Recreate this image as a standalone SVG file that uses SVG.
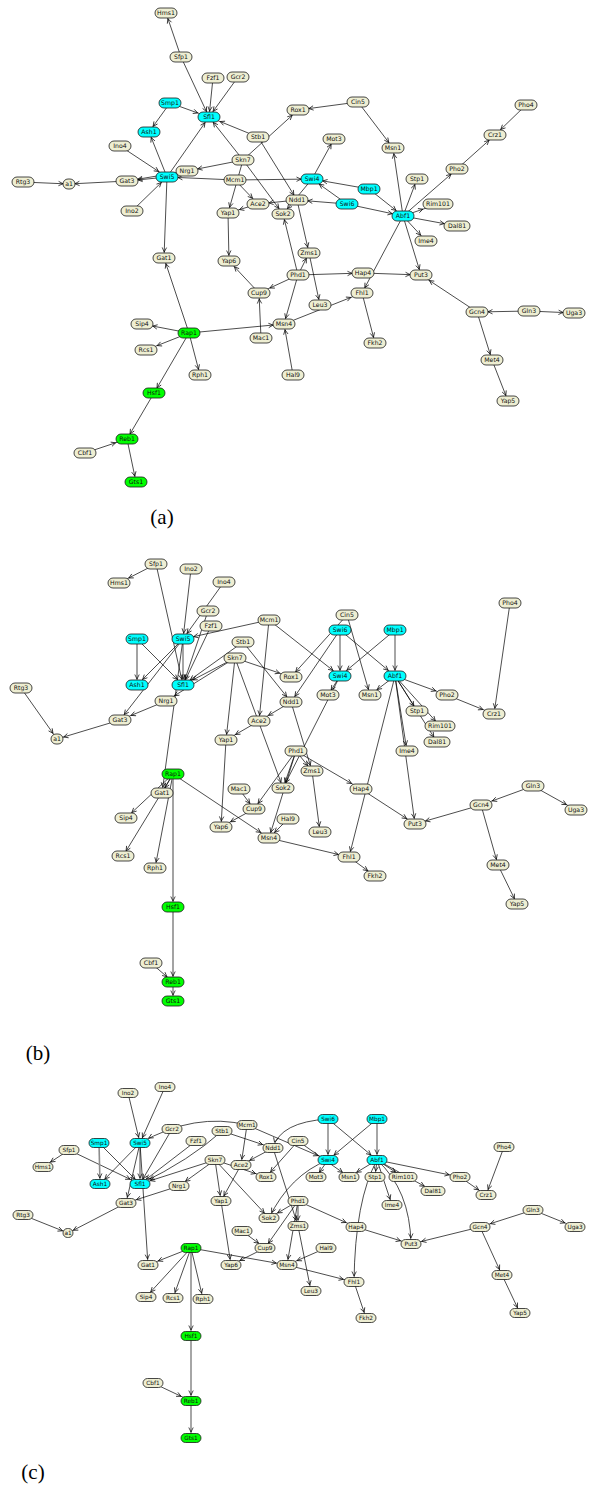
<svg xmlns="http://www.w3.org/2000/svg" width="600" height="1493" viewBox="0 0 600 1493">
<style>
.e line,.e path{stroke:#000;stroke-width:0.7;fill:none}
.e .gr{stroke:#8c8c8c;stroke-width:1.6}
.k6{marker-end:url(#m6)}.k7{marker-end:url(#m7)}.k8{marker-end:url(#m8)}.k9{marker-end:url(#m9)}.k10{marker-end:url(#m10)}.k11{marker-end:url(#m11)}.k12{marker-end:url(#m12)}.k13{marker-end:url(#m13)}.k16{marker-end:url(#m16)}
.n rect{fill:#eeeed2;stroke:#1a1a1a;stroke-width:0.8}
.n.c rect{fill:#00ffff}
.n.g rect{fill:#00ff00}
.n text{font-family:"DejaVu Sans",sans-serif;font-size:6.2px;text-anchor:middle;fill:#111}
.n.s text{font-size:5.8px}
.lbl{font-family:"Liberation Serif",serif;font-size:21px;fill:#000;text-anchor:middle}
</style>
<defs>
<marker id="m6" markerUnits="userSpaceOnUse" orient="auto" refX="6" refY="0" markerWidth="20" markerHeight="10" overflow="visible"><path d="M-4.5,-2.2 L0,0 L-4.5,2.2" fill="none" stroke="#000" stroke-width="0.7"/></marker>
<marker id="m7" markerUnits="userSpaceOnUse" orient="auto" refX="7" refY="0" markerWidth="20" markerHeight="10" overflow="visible"><path d="M-4.5,-2.2 L0,0 L-4.5,2.2" fill="none" stroke="#000" stroke-width="0.7"/></marker>
<marker id="m8" markerUnits="userSpaceOnUse" orient="auto" refX="8" refY="0" markerWidth="20" markerHeight="10" overflow="visible"><path d="M-4.5,-2.2 L0,0 L-4.5,2.2" fill="none" stroke="#000" stroke-width="0.7"/></marker>
<marker id="m9" markerUnits="userSpaceOnUse" orient="auto" refX="9" refY="0" markerWidth="20" markerHeight="10" overflow="visible"><path d="M-4.5,-2.2 L0,0 L-4.5,2.2" fill="none" stroke="#000" stroke-width="0.7"/></marker>
<marker id="m10" markerUnits="userSpaceOnUse" orient="auto" refX="10" refY="0" markerWidth="20" markerHeight="10" overflow="visible"><path d="M-4.5,-2.2 L0,0 L-4.5,2.2" fill="none" stroke="#000" stroke-width="0.7"/></marker>
<marker id="m11" markerUnits="userSpaceOnUse" orient="auto" refX="11" refY="0" markerWidth="20" markerHeight="10" overflow="visible"><path d="M-4.5,-2.2 L0,0 L-4.5,2.2" fill="none" stroke="#000" stroke-width="0.7"/></marker>
<marker id="m12" markerUnits="userSpaceOnUse" orient="auto" refX="12" refY="0" markerWidth="20" markerHeight="10" overflow="visible"><path d="M-4.5,-2.2 L0,0 L-4.5,2.2" fill="none" stroke="#000" stroke-width="0.7"/></marker>
<marker id="m13" markerUnits="userSpaceOnUse" orient="auto" refX="13" refY="0" markerWidth="20" markerHeight="10" overflow="visible"><path d="M-4.5,-2.2 L0,0 L-4.5,2.2" fill="none" stroke="#000" stroke-width="0.7"/></marker>
<marker id="m16" markerUnits="userSpaceOnUse" orient="auto" refX="16" refY="0" markerWidth="20" markerHeight="10" overflow="visible"><path d="M-4.5,-2.2 L0,0 L-4.5,2.2" fill="none" stroke="#000" stroke-width="0.7"/></marker>
</defs>

<g id="a-edges" class="e">
<line class="k6" x1="181" y1="57" x2="166" y2="13"/>
<line class="k6" x1="181" y1="57" x2="209" y2="117"/>
<line class="k6" x1="213" y1="78" x2="209" y2="117"/>
<line class="k7" x1="238" y1="77" x2="209" y2="117"/>
<line class="k12" x1="170" y1="103" x2="209" y2="117"/>
<line class="k7" x1="170" y1="103" x2="149" y2="132"/>
<line class="k6" x1="167" y1="177" x2="149" y2="132"/>
<line class="k7" x1="167" y1="177" x2="209" y2="117"/>
<line class="k12" x1="258" y1="137" x2="209" y2="117"/>
<line class="k7" x1="243" y1="160" x2="209" y2="117"/>
<line class="k6" x1="258" y1="137" x2="297" y2="200"/>
<line class="k8" x1="243" y1="160" x2="298" y2="110"/>
<line class="k11" x1="243" y1="160" x2="187" y2="171"/>
<line class="k7" x1="243" y1="160" x2="283" y2="214"/>
<line class="k6" x1="243" y1="160" x2="228" y2="213"/>
<line class="k11" x1="235" y1="180" x2="167" y2="177"/>
<line class="k11" x1="235" y1="180" x2="312" y2="179"/>
<line class="k8" x1="235" y1="180" x2="258" y2="204"/>
<line class="k11" x1="297" y1="200" x2="258" y2="204"/>
<line class="k12" x1="258" y1="204" x2="228" y2="213"/>
<line class="k7" x1="312" y1="179" x2="283" y2="214"/>
<line class="k6" x1="312" y1="179" x2="334" y2="139"/>
<line class="k11" x1="369" y1="189" x2="312" y2="179"/>
<line class="k9" x1="347" y1="204" x2="312" y2="179"/>
<line class="k11" x1="347" y1="204" x2="297" y2="200"/>
<line class="k9" x1="369" y1="189" x2="403" y2="216"/>
<line class="k11" x1="347" y1="204" x2="403" y2="216"/>
<line class="k6" x1="403" y1="216" x2="393" y2="148"/>
<line class="k7" x1="358" y1="102" x2="393" y2="148"/>
<line class="k11" x1="358" y1="102" x2="298" y2="110"/>
<line class="k6" x1="403" y1="216" x2="417" y2="179"/>
<line class="k8" x1="403" y1="216" x2="457" y2="169"/>
<line class="k8" x1="457" y1="169" x2="495" y2="135"/>
<line class="k8" x1="526" y1="105" x2="495" y2="135"/>
<line class="k16" x1="403" y1="216" x2="438" y2="204"/>
<line class="k13" x1="403" y1="216" x2="457" y2="226"/>
<line class="k8" x1="403" y1="216" x2="426" y2="241"/>
<line class="k6" x1="403" y1="216" x2="421" y2="275"/>
<line class="k6" x1="403" y1="216" x2="362" y2="293"/>
<line class="k11" x1="363" y1="273" x2="421" y2="275"/>
<line class="k11" x1="298" y1="275" x2="363" y2="273"/>
<line class="k12" x1="298" y1="275" x2="259" y2="293"/>
<line class="k6" x1="298" y1="275" x2="309" y2="253"/>
<line class="k6" x1="298" y1="275" x2="283" y2="214"/>
<line class="k6" x1="298" y1="275" x2="284" y2="324"/>
<line class="k6" x1="297" y1="200" x2="309" y2="253"/>
<line class="k6" x1="309" y1="253" x2="320" y2="305"/>
<line class="k12" x1="284" y1="324" x2="362" y2="293"/>
<line class="k6" x1="362" y1="293" x2="375" y2="343"/>
<line class="k8" x1="259" y1="293" x2="229" y2="261"/>
<line class="k6" x1="228" y1="213" x2="229" y2="261"/>
<line class="k6" x1="261" y1="338" x2="259" y2="293"/>
<line class="k6" x1="293" y1="375" x2="284" y2="324"/>
<line class="k11" x1="189" y1="333" x2="284" y2="324"/>
<line class="k6" x1="189" y1="333" x2="164" y2="258"/>
<line class="k11" x1="189" y1="333" x2="142" y2="324"/>
<line class="k12" x1="189" y1="333" x2="146" y2="350"/>
<line class="k6" x1="189" y1="333" x2="200" y2="375"/>
<line class="k6" x1="189" y1="333" x2="154" y2="393"/>
<line class="k6" x1="154" y1="393" x2="127" y2="439"/>
<line class="k12" x1="85" y1="453" x2="127" y2="439"/>
<line class="k6" x1="127" y1="439" x2="136" y2="482"/>
<line class="k6" x1="167" y1="177" x2="164" y2="258"/>
<line class="k11" x1="167" y1="177" x2="127" y2="181"/>
<line class="k11" x1="187" y1="171" x2="127" y2="181"/>
<line class="k6" x1="127" y1="181" x2="69" y2="184"/>
<line class="k6" x1="23" y1="182" x2="69" y2="184"/>
<line class="k10" x1="120" y1="146" x2="167" y2="177"/>
<line class="k8" x1="132" y1="211" x2="167" y2="177"/>
<line class="k10" x1="477" y1="312" x2="421" y2="275"/>
<line class="k11" x1="529" y1="311" x2="477" y2="312"/>
<line class="k11" x1="529" y1="311" x2="574" y2="313"/>
<line class="k6" x1="477" y1="312" x2="492" y2="360"/>
<line class="k6" x1="492" y1="360" x2="508" y2="401"/>
</g>

<g id="a-nodes">
<g id="a-Hms1" class="n" transform="translate(166,13)"><rect x="-11" y="-5" width="22" height="10" rx="5"/><text y="2.2">Hms1</text></g>
<g id="a-Sfp1" class="n" transform="translate(181,57)"><rect x="-11" y="-5" width="22" height="10" rx="5"/><text y="2.2">Sfp1</text></g>
<g id="a-Fzf1" class="n" transform="translate(213,78)"><rect x="-11" y="-5" width="22" height="10" rx="5"/><text y="2.2">Fzf1</text></g>
<g id="a-Gcr2" class="n" transform="translate(238,77)"><rect x="-11" y="-5" width="22" height="10" rx="5"/><text y="2.2">Gcr2</text></g>
<g id="a-Smp1" class="n c" transform="translate(170,103)"><rect x="-11" y="-5" width="22" height="10" rx="5"/><text y="2.2">Smp1</text></g>
<g id="a-Sfl1" class="n c" transform="translate(209,117)"><rect x="-11" y="-5" width="22" height="10" rx="5"/><text y="2.2">Sfl1</text></g>
<g id="a-Ash1" class="n c" transform="translate(149,132)"><rect x="-11" y="-5" width="22" height="10" rx="5"/><text y="2.2">Ash1</text></g>
<g id="a-Stb1" class="n" transform="translate(258,137)"><rect x="-11" y="-5" width="22" height="10" rx="5"/><text y="2.2">Stb1</text></g>
<g id="a-Ino4" class="n" transform="translate(120,146)"><rect x="-11" y="-5" width="22" height="10" rx="5"/><text y="2.2">Ino4</text></g>
<g id="a-Skn7" class="n" transform="translate(243,160)"><rect x="-11" y="-5" width="22" height="10" rx="5"/><text y="2.2">Skn7</text></g>
<g id="a-Nrg1" class="n" transform="translate(187,171)"><rect x="-11" y="-5" width="22" height="10" rx="5"/><text y="2.2">Nrg1</text></g>
<g id="a-Swi5" class="n c" transform="translate(167,177)"><rect x="-11" y="-5" width="22" height="10" rx="5"/><text y="2.2">Swi5</text></g>
<g id="a-Mcm1" class="n" transform="translate(235,180)"><rect x="-11" y="-5" width="22" height="10" rx="5"/><text y="2.2">Mcm1</text></g>
<g id="a-Gat3" class="n" transform="translate(127,181)"><rect x="-11" y="-5" width="22" height="10" rx="5"/><text y="2.2">Gat3</text></g>
<g id="a-Rtg3" class="n" transform="translate(23,182)"><rect x="-11" y="-5" width="22" height="10" rx="5"/><text y="2.2">Rtg3</text></g>
<g id="a-a1" class="n" transform="translate(69,184)"><rect x="-6" y="-5" width="12" height="10" rx="5"/><text y="2.2">a1</text></g>
<g id="a-Ino2" class="n" transform="translate(132,211)"><rect x="-11" y="-5" width="22" height="10" rx="5"/><text y="2.2">Ino2</text></g>
<g id="a-Ace2" class="n" transform="translate(258,204)"><rect x="-11" y="-5" width="22" height="10" rx="5"/><text y="2.2">Ace2</text></g>
<g id="a-Yap1" class="n" transform="translate(228,213)"><rect x="-11" y="-5" width="22" height="10" rx="5"/><text y="2.2">Yap1</text></g>
<g id="a-Sok2" class="n" transform="translate(283,214)"><rect x="-11" y="-5" width="22" height="10" rx="5"/><text y="2.2">Sok2</text></g>
<g id="a-Rox1" class="n" transform="translate(298,110)"><rect x="-11" y="-5" width="22" height="10" rx="5"/><text y="2.2">Rox1</text></g>
<g id="a-Ndd1" class="n" transform="translate(297,200)"><rect x="-11" y="-5" width="22" height="10" rx="5"/><text y="2.2">Ndd1</text></g>
<g id="a-Cin5" class="n" transform="translate(358,102)"><rect x="-11" y="-5" width="22" height="10" rx="5"/><text y="2.2">Cin5</text></g>
<g id="a-Pho4" class="n" transform="translate(526,105)"><rect x="-11" y="-5" width="22" height="10" rx="5"/><text y="2.2">Pho4</text></g>
<g id="a-Crz1" class="n" transform="translate(495,135)"><rect x="-11" y="-5" width="22" height="10" rx="5"/><text y="2.2">Crz1</text></g>
<g id="a-Mot3" class="n" transform="translate(334,139)"><rect x="-11" y="-5" width="22" height="10" rx="5"/><text y="2.2">Mot3</text></g>
<g id="a-Msn1" class="n" transform="translate(393,148)"><rect x="-11" y="-5" width="22" height="10" rx="5"/><text y="2.2">Msn1</text></g>
<g id="a-Pho2" class="n" transform="translate(457,169)"><rect x="-11" y="-5" width="22" height="10" rx="5"/><text y="2.2">Pho2</text></g>
<g id="a-Stp1" class="n" transform="translate(417,179)"><rect x="-11" y="-5" width="22" height="10" rx="5"/><text y="2.2">Stp1</text></g>
<g id="a-Swi4" class="n c" transform="translate(312,179)"><rect x="-11" y="-5" width="22" height="10" rx="5"/><text y="2.2">Swi4</text></g>
<g id="a-Mbp1" class="n c" transform="translate(369,189)"><rect x="-11" y="-5" width="22" height="10" rx="5"/><text y="2.2">Mbp1</text></g>
<g id="a-Rim101" class="n" transform="translate(438,204)"><rect x="-15" y="-5" width="30" height="10" rx="5"/><text y="2.2">Rim101</text></g>
<g id="a-Swi6" class="n c" transform="translate(347,204)"><rect x="-11" y="-5" width="22" height="10" rx="5"/><text y="2.2">Swi6</text></g>
<g id="a-Abf1" class="n c" transform="translate(403,216)"><rect x="-11" y="-5" width="22" height="10" rx="5"/><text y="2.2">Abf1</text></g>
<g id="a-Dal81" class="n" transform="translate(457,226)"><rect x="-13" y="-5" width="26" height="10" rx="5"/><text y="2.2">Dal81</text></g>
<g id="a-Ime4" class="n" transform="translate(426,241)"><rect x="-11" y="-5" width="22" height="10" rx="5"/><text y="2.2">Ime4</text></g>
<g id="a-Zms1" class="n" transform="translate(309,253)"><rect x="-11" y="-5" width="22" height="10" rx="5"/><text y="2.2">Zms1</text></g>
<g id="a-Phd1" class="n" transform="translate(298,275)"><rect x="-11" y="-5" width="22" height="10" rx="5"/><text y="2.2">Phd1</text></g>
<g id="a-Hap4" class="n" transform="translate(363,273)"><rect x="-11" y="-5" width="22" height="10" rx="5"/><text y="2.2">Hap4</text></g>
<g id="a-Put3" class="n" transform="translate(421,275)"><rect x="-11" y="-5" width="22" height="10" rx="5"/><text y="2.2">Put3</text></g>
<g id="a-Cup9" class="n" transform="translate(259,293)"><rect x="-11" y="-5" width="22" height="10" rx="5"/><text y="2.2">Cup9</text></g>
<g id="a-Fhl1" class="n" transform="translate(362,293)"><rect x="-11" y="-5" width="22" height="10" rx="5"/><text y="2.2">Fhl1</text></g>
<g id="a-Gat1" class="n" transform="translate(164,258)"><rect x="-11" y="-5" width="22" height="10" rx="5"/><text y="2.2">Gat1</text></g>
<g id="a-Yap6" class="n" transform="translate(229,261)"><rect x="-11" y="-5" width="22" height="10" rx="5"/><text y="2.2">Yap6</text></g>
<g id="a-Leu3" class="n" transform="translate(320,305)"><rect x="-11" y="-5" width="22" height="10" rx="5"/><text y="2.2">Leu3</text></g>
<g id="a-Sip4" class="n" transform="translate(142,324)"><rect x="-11" y="-5" width="22" height="10" rx="5"/><text y="2.2">Sip4</text></g>
<g id="a-Msn4" class="n" transform="translate(284,324)"><rect x="-11" y="-5" width="22" height="10" rx="5"/><text y="2.2">Msn4</text></g>
<g id="a-Rap1" class="n g" transform="translate(189,333)"><rect x="-11" y="-5" width="22" height="10" rx="5"/><text y="2.2">Rap1</text></g>
<g id="a-Mac1" class="n" transform="translate(261,338)"><rect x="-11" y="-5" width="22" height="10" rx="5"/><text y="2.2">Mac1</text></g>
<g id="a-Rcs1" class="n" transform="translate(146,350)"><rect x="-11" y="-5" width="22" height="10" rx="5"/><text y="2.2">Rcs1</text></g>
<g id="a-Fkh2" class="n" transform="translate(375,343)"><rect x="-11" y="-5" width="22" height="10" rx="5"/><text y="2.2">Fkh2</text></g>
<g id="a-Rph1" class="n" transform="translate(200,375)"><rect x="-11" y="-5" width="22" height="10" rx="5"/><text y="2.2">Rph1</text></g>
<g id="a-Hal9" class="n" transform="translate(293,375)"><rect x="-11" y="-5" width="22" height="10" rx="5"/><text y="2.2">Hal9</text></g>
<g id="a-Hsf1" class="n g" transform="translate(154,393)"><rect x="-11" y="-5" width="22" height="10" rx="5"/><text y="2.2">Hsf1</text></g>
<g id="a-Reb1" class="n g" transform="translate(127,439)"><rect x="-11" y="-5" width="22" height="10" rx="5"/><text y="2.2">Reb1</text></g>
<g id="a-Cbf1" class="n" transform="translate(85,453)"><rect x="-11" y="-5" width="22" height="10" rx="5"/><text y="2.2">Cbf1</text></g>
<g id="a-Gts1" class="n g" transform="translate(136,482)"><rect x="-11" y="-5" width="22" height="10" rx="5"/><text y="2.2">Gts1</text></g>
<g id="a-Gcn4" class="n" transform="translate(477,312)"><rect x="-11" y="-5" width="22" height="10" rx="5"/><text y="2.2">Gcn4</text></g>
<g id="a-Gln3" class="n" transform="translate(529,311)"><rect x="-11" y="-5" width="22" height="10" rx="5"/><text y="2.2">Gln3</text></g>
<g id="a-Uga3" class="n" transform="translate(574,313)"><rect x="-11" y="-5" width="22" height="10" rx="5"/><text y="2.2">Uga3</text></g>
<g id="a-Met4" class="n" transform="translate(492,360)"><rect x="-11" y="-5" width="22" height="10" rx="5"/><text y="2.2">Met4</text></g>
<g id="a-Yap5" class="n" transform="translate(508,401)"><rect x="-11" y="-5" width="22" height="10" rx="5"/><text y="2.2">Yap5</text></g>
</g>
<text class="lbl" x="162" y="524">(a)</text>

<g id="b-edges" class="e">
<line class="k11" x1="156" y1="564" x2="119" y2="583"/>
<line class="k6" x1="156" y1="564" x2="183" y2="685"/>
<line class="k6" x1="211" y1="626" x2="183" y2="685"/>
<line class="k6" x1="208" y1="611" x2="183" y2="685"/>
<line class="k8" x1="137" y1="639" x2="183" y2="685"/>
<line class="k6 gr" x1="137" y1="639" x2="137" y2="685"/>
<line class="k8" x1="183" y1="639" x2="137" y2="685"/>
<line class="k6" x1="183" y1="639" x2="183" y2="685"/>
<line class="k9" x1="243" y1="642" x2="183" y2="685"/>
<line class="k11" x1="235" y1="658" x2="183" y2="685"/>
<line class="k7" x1="243" y1="642" x2="291" y2="702"/>
<line class="k12" x1="235" y1="658" x2="291" y2="677"/>
<line class="k10" x1="235" y1="658" x2="166" y2="701"/>
<line class="k6" x1="235" y1="658" x2="283" y2="788"/>
<line class="k6" x1="235" y1="658" x2="226" y2="740"/>
<line class="k11" x1="269" y1="620" x2="183" y2="639"/>
<line class="k9" x1="269" y1="620" x2="340" y2="676"/>
<line class="k6" x1="269" y1="620" x2="259" y2="721"/>
<line class="k11" x1="291" y1="702" x2="259" y2="721"/>
<line class="k11" x1="259" y1="721" x2="226" y2="740"/>
<line class="k6" x1="340" y1="676" x2="283" y2="788"/>
<line class="k6" x1="340" y1="676" x2="328" y2="695"/>
<line class="k9" x1="395" y1="630" x2="340" y2="676"/>
<line class="k6" x1="340" y1="630" x2="340" y2="676"/>
<line class="k7" x1="340" y1="630" x2="291" y2="702"/>
<line class="k6" x1="395" y1="630" x2="395" y2="676"/>
<line class="k9" x1="340" y1="630" x2="395" y2="676"/>
<line class="k9" x1="395" y1="676" x2="370" y2="695"/>
<line class="k6" x1="347" y1="615" x2="370" y2="695"/>
<line class="k7" x1="347" y1="615" x2="291" y2="677"/>
<line class="k6" x1="395" y1="676" x2="417" y2="711"/>
<line class="k12" x1="395" y1="676" x2="447" y2="695"/>
<line class="k12" x1="447" y1="695" x2="494" y2="714"/>
<line class="k6" x1="510" y1="603" x2="494" y2="714"/>
<line class="k7" x1="395" y1="676" x2="440" y2="726"/>
<line class="k6" x1="395" y1="676" x2="437" y2="742"/>
<line class="k6" x1="395" y1="676" x2="407" y2="751"/>
<line class="k6" x1="395" y1="676" x2="415" y2="824"/>
<line class="k6" x1="395" y1="676" x2="349" y2="857"/>
<line class="k10" x1="361" y1="789" x2="415" y2="824"/>
<line class="k11" x1="296" y1="751" x2="361" y2="789"/>
<line class="k7" x1="296" y1="751" x2="254" y2="809"/>
<line class="k7" x1="296" y1="751" x2="312" y2="771"/>
<line class="k6" x1="296" y1="751" x2="283" y2="788"/>
<line class="k6" x1="296" y1="751" x2="269" y2="838"/>
<line class="k6" x1="291" y1="702" x2="312" y2="771"/>
<line class="k6" x1="312" y1="771" x2="320" y2="832"/>
<line class="k11" x1="269" y1="838" x2="349" y2="857"/>
<line class="k9" x1="349" y1="857" x2="375" y2="876"/>
<line class="k11" x1="254" y1="809" x2="221" y2="827"/>
<line class="k6" x1="226" y1="740" x2="221" y2="827"/>
<line class="k7" x1="239" y1="789" x2="254" y2="809"/>
<line class="k8" x1="288" y1="819" x2="269" y2="838"/>
<line class="k10" x1="173" y1="774" x2="269" y2="838"/>
<line class="k6" x1="173" y1="774" x2="162" y2="793"/>
<line class="k8" x1="173" y1="774" x2="126" y2="818"/>
<line class="k6" x1="173" y1="774" x2="123" y2="856"/>
<line class="k6" x1="173" y1="774" x2="155" y2="868"/>
<line class="k6 gr" x1="173" y1="774" x2="173" y2="907"/>
<line class="k6 gr" x1="173" y1="907" x2="173" y2="982"/>
<line class="k8" x1="151" y1="963" x2="173" y2="982"/>
<line class="k6" x1="173" y1="982" x2="173" y2="1001"/>
<line class="k6" x1="183" y1="639" x2="162" y2="793"/>
<line class="k7" x1="183" y1="639" x2="120" y2="720"/>
<line class="k12" x1="166" y1="701" x2="120" y2="720"/>
<line class="k7" x1="120" y1="720" x2="57" y2="739"/>
<line class="k7" x1="21" y1="688" x2="57" y2="739"/>
<line class="k7" x1="224" y1="582" x2="183" y2="639"/>
<line class="k6" x1="191" y1="569" x2="183" y2="639"/>
<line class="k11" x1="481" y1="805" x2="415" y2="824"/>
<line class="k12" x1="533" y1="786" x2="481" y2="805"/>
<line class="k11" x1="533" y1="786" x2="576" y2="810"/>
<line class="k6" x1="481" y1="805" x2="498" y2="865"/>
<line class="k6" x1="498" y1="865" x2="517" y2="904"/>
</g>

<g id="b-nodes">
<g id="b-Sfp1" class="n" transform="translate(156,564)"><rect x="-11" y="-5" width="22" height="10" rx="5"/><text y="2.2">Sfp1</text></g>
<g id="b-Ino2" class="n" transform="translate(191,569)"><rect x="-11" y="-5" width="22" height="10" rx="5"/><text y="2.2">Ino2</text></g>
<g id="b-Hms1" class="n" transform="translate(119,583)"><rect x="-11" y="-5" width="22" height="10" rx="5"/><text y="2.2">Hms1</text></g>
<g id="b-Ino4" class="n" transform="translate(224,582)"><rect x="-11" y="-5" width="22" height="10" rx="5"/><text y="2.2">Ino4</text></g>
<g id="b-Gcr2" class="n" transform="translate(208,611)"><rect x="-11" y="-5" width="22" height="10" rx="5"/><text y="2.2">Gcr2</text></g>
<g id="b-Mcm1" class="n" transform="translate(269,620)"><rect x="-11" y="-5" width="22" height="10" rx="5"/><text y="2.2">Mcm1</text></g>
<g id="b-Fzf1" class="n" transform="translate(211,626)"><rect x="-11" y="-5" width="22" height="10" rx="5"/><text y="2.2">Fzf1</text></g>
<g id="b-Smp1" class="n c" transform="translate(137,639)"><rect x="-11" y="-5" width="22" height="10" rx="5"/><text y="2.2">Smp1</text></g>
<g id="b-Swi5" class="n c" transform="translate(183,639)"><rect x="-11" y="-5" width="22" height="10" rx="5"/><text y="2.2">Swi5</text></g>
<g id="b-Stb1" class="n" transform="translate(243,642)"><rect x="-11" y="-5" width="22" height="10" rx="5"/><text y="2.2">Stb1</text></g>
<g id="b-Skn7" class="n" transform="translate(235,658)"><rect x="-11" y="-5" width="22" height="10" rx="5"/><text y="2.2">Skn7</text></g>
<g id="b-Rox1" class="n" transform="translate(291,677)"><rect x="-11" y="-5" width="22" height="10" rx="5"/><text y="2.2">Rox1</text></g>
<g id="b-Rtg3" class="n" transform="translate(21,688)"><rect x="-11" y="-5" width="22" height="10" rx="5"/><text y="2.2">Rtg3</text></g>
<g id="b-Ash1" class="n c" transform="translate(137,685)"><rect x="-11" y="-5" width="22" height="10" rx="5"/><text y="2.2">Ash1</text></g>
<g id="b-Sfl1" class="n c" transform="translate(183,685)"><rect x="-11" y="-5" width="22" height="10" rx="5"/><text y="2.2">Sfl1</text></g>
<g id="b-Nrg1" class="n" transform="translate(166,701)"><rect x="-11" y="-5" width="22" height="10" rx="5"/><text y="2.2">Nrg1</text></g>
<g id="b-Ndd1" class="n" transform="translate(291,702)"><rect x="-11" y="-5" width="22" height="10" rx="5"/><text y="2.2">Ndd1</text></g>
<g id="b-Gat3" class="n" transform="translate(120,720)"><rect x="-11" y="-5" width="22" height="10" rx="5"/><text y="2.2">Gat3</text></g>
<g id="b-Ace2" class="n" transform="translate(259,721)"><rect x="-11" y="-5" width="22" height="10" rx="5"/><text y="2.2">Ace2</text></g>
<g id="b-a1" class="n" transform="translate(57,739)"><rect x="-6" y="-5" width="12" height="10" rx="5"/><text y="2.2">a1</text></g>
<g id="b-Yap1" class="n" transform="translate(226,740)"><rect x="-11" y="-5" width="22" height="10" rx="5"/><text y="2.2">Yap1</text></g>
<g id="b-Rap1" class="n g" transform="translate(173,774)"><rect x="-11" y="-5" width="22" height="10" rx="5"/><text y="2.2">Rap1</text></g>
<g id="b-Mac1" class="n" transform="translate(239,789)"><rect x="-11" y="-5" width="22" height="10" rx="5"/><text y="2.2">Mac1</text></g>
<g id="b-Sok2" class="n" transform="translate(283,788)"><rect x="-11" y="-5" width="22" height="10" rx="5"/><text y="2.2">Sok2</text></g>
<g id="b-Pho4" class="n" transform="translate(510,603)"><rect x="-11" y="-5" width="22" height="10" rx="5"/><text y="2.2">Pho4</text></g>
<g id="b-Cin5" class="n" transform="translate(347,615)"><rect x="-11" y="-5" width="22" height="10" rx="5"/><text y="2.2">Cin5</text></g>
<g id="b-Swi6" class="n c" transform="translate(340,630)"><rect x="-11" y="-5" width="22" height="10" rx="5"/><text y="2.2">Swi6</text></g>
<g id="b-Mbp1" class="n c" transform="translate(395,630)"><rect x="-11" y="-5" width="22" height="10" rx="5"/><text y="2.2">Mbp1</text></g>
<g id="b-Swi4" class="n c" transform="translate(340,676)"><rect x="-11" y="-5" width="22" height="10" rx="5"/><text y="2.2">Swi4</text></g>
<g id="b-Abf1" class="n c" transform="translate(395,676)"><rect x="-11" y="-5" width="22" height="10" rx="5"/><text y="2.2">Abf1</text></g>
<g id="b-Mot3" class="n" transform="translate(328,695)"><rect x="-11" y="-5" width="22" height="10" rx="5"/><text y="2.2">Mot3</text></g>
<g id="b-Msn1" class="n" transform="translate(370,695)"><rect x="-11" y="-5" width="22" height="10" rx="5"/><text y="2.2">Msn1</text></g>
<g id="b-Pho2" class="n" transform="translate(447,695)"><rect x="-11" y="-5" width="22" height="10" rx="5"/><text y="2.2">Pho2</text></g>
<g id="b-Stp1" class="n" transform="translate(417,711)"><rect x="-11" y="-5" width="22" height="10" rx="5"/><text y="2.2">Stp1</text></g>
<g id="b-Crz1" class="n" transform="translate(494,714)"><rect x="-11" y="-5" width="22" height="10" rx="5"/><text y="2.2">Crz1</text></g>
<g id="b-Rim101" class="n" transform="translate(440,726)"><rect x="-15" y="-5" width="30" height="10" rx="5"/><text y="2.2">Rim101</text></g>
<g id="b-Dal81" class="n" transform="translate(437,742)"><rect x="-13" y="-5" width="26" height="10" rx="5"/><text y="2.2">Dal81</text></g>
<g id="b-Phd1" class="n" transform="translate(296,751)"><rect x="-11" y="-5" width="22" height="10" rx="5"/><text y="2.2">Phd1</text></g>
<g id="b-Ime4" class="n" transform="translate(407,751)"><rect x="-11" y="-5" width="22" height="10" rx="5"/><text y="2.2">Ime4</text></g>
<g id="b-Zms1" class="n" transform="translate(312,771)"><rect x="-11" y="-5" width="22" height="10" rx="5"/><text y="2.2">Zms1</text></g>
<g id="b-Hap4" class="n" transform="translate(361,789)"><rect x="-11" y="-5" width="22" height="10" rx="5"/><text y="2.2">Hap4</text></g>
<g id="b-Gln3" class="n" transform="translate(533,786)"><rect x="-11" y="-5" width="22" height="10" rx="5"/><text y="2.2">Gln3</text></g>
<g id="b-Gcn4" class="n" transform="translate(481,805)"><rect x="-11" y="-5" width="22" height="10" rx="5"/><text y="2.2">Gcn4</text></g>
<g id="b-Uga3" class="n" transform="translate(576,810)"><rect x="-11" y="-5" width="22" height="10" rx="5"/><text y="2.2">Uga3</text></g>
<g id="b-Gat1" class="n" transform="translate(162,793)"><rect x="-11" y="-5" width="22" height="10" rx="5"/><text y="2.2">Gat1</text></g>
<g id="b-Cup9" class="n" transform="translate(254,809)"><rect x="-11" y="-5" width="22" height="10" rx="5"/><text y="2.2">Cup9</text></g>
<g id="b-Sip4" class="n" transform="translate(126,818)"><rect x="-11" y="-5" width="22" height="10" rx="5"/><text y="2.2">Sip4</text></g>
<g id="b-Hal9" class="n" transform="translate(288,819)"><rect x="-11" y="-5" width="22" height="10" rx="5"/><text y="2.2">Hal9</text></g>
<g id="b-Yap6" class="n" transform="translate(221,827)"><rect x="-11" y="-5" width="22" height="10" rx="5"/><text y="2.2">Yap6</text></g>
<g id="b-Leu3" class="n" transform="translate(320,832)"><rect x="-11" y="-5" width="22" height="10" rx="5"/><text y="2.2">Leu3</text></g>
<g id="b-Msn4" class="n" transform="translate(269,838)"><rect x="-11" y="-5" width="22" height="10" rx="5"/><text y="2.2">Msn4</text></g>
<g id="b-Put3" class="n" transform="translate(415,824)"><rect x="-11" y="-5" width="22" height="10" rx="5"/><text y="2.2">Put3</text></g>
<g id="b-Rcs1" class="n" transform="translate(123,856)"><rect x="-11" y="-5" width="22" height="10" rx="5"/><text y="2.2">Rcs1</text></g>
<g id="b-Fhl1" class="n" transform="translate(349,857)"><rect x="-11" y="-5" width="22" height="10" rx="5"/><text y="2.2">Fhl1</text></g>
<g id="b-Rph1" class="n" transform="translate(155,868)"><rect x="-11" y="-5" width="22" height="10" rx="5"/><text y="2.2">Rph1</text></g>
<g id="b-Fkh2" class="n" transform="translate(375,876)"><rect x="-11" y="-5" width="22" height="10" rx="5"/><text y="2.2">Fkh2</text></g>
<g id="b-Met4" class="n" transform="translate(498,865)"><rect x="-11" y="-5" width="22" height="10" rx="5"/><text y="2.2">Met4</text></g>
<g id="b-Yap5" class="n" transform="translate(517,904)"><rect x="-11" y="-5" width="22" height="10" rx="5"/><text y="2.2">Yap5</text></g>
<g id="b-Hsf1" class="n g" transform="translate(173,907)"><rect x="-11" y="-5" width="22" height="10" rx="5"/><text y="2.2">Hsf1</text></g>
<g id="b-Cbf1" class="n" transform="translate(151,963)"><rect x="-11" y="-5" width="22" height="10" rx="5"/><text y="2.2">Cbf1</text></g>
<g id="b-Reb1" class="n g" transform="translate(173,982)"><rect x="-11" y="-5" width="22" height="10" rx="5"/><text y="2.2">Reb1</text></g>
<g id="b-Gts1" class="n g" transform="translate(173,1001)"><rect x="-11" y="-5" width="22" height="10" rx="5"/><text y="2.2">Gts1</text></g>
</g>
<text class="lbl" x="38" y="1060">(b)</text>

<g id="c-edges" class="e">
<line class="k9" x1="69" y1="1150" x2="43" y2="1167"/>
<line class="k11" x1="69" y1="1150" x2="140" y2="1184"/>
<line class="k8" x1="196" y1="1141" x2="140" y2="1184"/>
<line class="k6" x1="172" y1="1129" x2="140" y2="1184"/>
<line class="k7" x1="99" y1="1143" x2="140" y2="1184"/>
<line class="k6 gr" x1="99" y1="1143" x2="100" y2="1184"/>
<line class="k7" x1="140" y1="1143" x2="100" y2="1184"/>
<line class="k6" x1="140" y1="1143" x2="140" y2="1184"/>
<path class="k11" d="M222,1131 Q190,1160 140,1184"/>
<line class="k11" x1="215" y1="1160" x2="140" y2="1184"/>
<line class="k11" x1="222" y1="1131" x2="273" y2="1148"/>
<line class="k11" x1="215" y1="1160" x2="266" y2="1177"/>
<line class="k8" x1="215" y1="1160" x2="179" y2="1186"/>
<line class="k7" x1="215" y1="1160" x2="269" y2="1218"/>
<line class="k6" x1="215" y1="1160" x2="221" y2="1201"/>
<path class="k10" d="M247,1125 Q195,1112 140,1143"/>
<line class="k11" x1="247" y1="1125" x2="328" y2="1160"/>
<line class="k6" x1="247" y1="1125" x2="241" y2="1165"/>
<line class="k10" x1="273" y1="1148" x2="241" y2="1165"/>
<line class="k6" x1="241" y1="1165" x2="221" y2="1201"/>
<path class="k6" d="M328,1160 Q290,1175 269,1218"/>
<line class="k6" x1="328" y1="1160" x2="316" y2="1177"/>
<line class="k8" x1="377" y1="1119" x2="328" y2="1160"/>
<line class="k6" x1="328" y1="1119" x2="328" y2="1160"/>
<path class="k6" d="M328,1119 Q280,1122 273,1148"/>
<line class="k6" x1="377" y1="1119" x2="377" y2="1160"/>
<line class="k8" x1="328" y1="1119" x2="377" y2="1160"/>
<line class="k9" x1="377" y1="1160" x2="349" y2="1177"/>
<line class="k8" x1="298" y1="1141" x2="349" y2="1177"/>
<line class="k7" x1="298" y1="1141" x2="266" y2="1177"/>
<line class="k6" x1="377" y1="1160" x2="375" y2="1177"/>
<line class="k11" x1="377" y1="1160" x2="460" y2="1177"/>
<line class="k9" x1="460" y1="1177" x2="486" y2="1195"/>
<line class="k6" x1="504" y1="1147" x2="486" y2="1195"/>
<line class="k9" x1="377" y1="1160" x2="403" y2="1177"/>
<line class="k10" x1="377" y1="1160" x2="433" y2="1191"/>
<line class="k6" x1="377" y1="1160" x2="392" y2="1205"/>
<path class="k6" d="M377,1160 Q410,1190 411,1244"/>
<path class="k6" d="M377,1160 Q355,1200 354,1282"/>
<line class="k11" x1="356" y1="1227" x2="411" y2="1244"/>
<line class="k11" x1="298" y1="1201" x2="356" y2="1227"/>
<line class="k6" x1="298" y1="1201" x2="265" y2="1248"/>
<line class="k6" x1="298" y1="1201" x2="298" y2="1226"/>
<line class="k10" x1="298" y1="1201" x2="269" y2="1218"/>
<line class="k6" x1="298" y1="1201" x2="287" y2="1265"/>
<line class="k6" x1="273" y1="1148" x2="298" y2="1226"/>
<line class="k6" x1="298" y1="1226" x2="311" y2="1291"/>
<line class="k11" x1="287" y1="1265" x2="354" y2="1282"/>
<line class="k6" x1="354" y1="1282" x2="366" y2="1318"/>
<line class="k10" x1="265" y1="1248" x2="231" y2="1265"/>
<line class="k6" x1="221" y1="1201" x2="231" y2="1265"/>
<line class="k8" x1="242" y1="1231" x2="265" y2="1248"/>
<line class="k11" x1="326" y1="1248" x2="287" y2="1265"/>
<line class="k11" x1="191" y1="1248" x2="287" y2="1265"/>
<line class="k11" x1="191" y1="1248" x2="148" y2="1265"/>
<line class="k7" x1="191" y1="1248" x2="146" y2="1297"/>
<line class="k6" x1="191" y1="1248" x2="173" y2="1298"/>
<line class="k6" x1="191" y1="1248" x2="203" y2="1299"/>
<line class="k6" x1="191" y1="1248" x2="191" y2="1336"/>
<line class="k6" x1="191" y1="1336" x2="191" y2="1401"/>
<line class="k11" x1="153" y1="1383" x2="191" y2="1401"/>
<line class="k6" x1="191" y1="1401" x2="191" y2="1438"/>
<line class="k6" x1="140" y1="1143" x2="148" y2="1265"/>
<line class="k6" x1="140" y1="1143" x2="126" y2="1203"/>
<line class="k11" x1="179" y1="1186" x2="126" y2="1203"/>
<line class="k6" x1="126" y1="1203" x2="68" y2="1233"/>
<line class="k6" x1="23" y1="1215" x2="68" y2="1233"/>
<line class="k6" x1="165" y1="1087" x2="140" y2="1143"/>
<line class="k6" x1="128" y1="1093" x2="140" y2="1143"/>
<line class="k11" x1="480" y1="1227" x2="411" y2="1244"/>
<line class="k11" x1="533" y1="1210" x2="480" y2="1227"/>
<line class="k11" x1="533" y1="1210" x2="575" y2="1227"/>
<line class="k6" x1="480" y1="1227" x2="502" y2="1275"/>
<line class="k6" x1="502" y1="1275" x2="520" y2="1313"/>
</g>

<g id="c-nodes">
<g id="c-Ino2" class="n s" transform="translate(128,1093)"><rect x="-10" y="-4.5" width="20" height="9" rx="4.5"/><text y="2">Ino2</text></g>
<g id="c-Ino4" class="n s" transform="translate(165,1087)"><rect x="-10" y="-4.5" width="20" height="9" rx="4.5"/><text y="2">Ino4</text></g>
<g id="c-Mcm1" class="n s" transform="translate(247,1125)"><rect x="-10" y="-4.5" width="20" height="9" rx="4.5"/><text y="2">Mcm1</text></g>
<g id="c-Gcr2" class="n s" transform="translate(172,1129)"><rect x="-10" y="-4.5" width="20" height="9" rx="4.5"/><text y="2">Gcr2</text></g>
<g id="c-Stb1" class="n s" transform="translate(222,1131)"><rect x="-10" y="-4.5" width="20" height="9" rx="4.5"/><text y="2">Stb1</text></g>
<g id="c-Smp1" class="n s c" transform="translate(99,1143)"><rect x="-10" y="-4.5" width="20" height="9" rx="4.5"/><text y="2">Smp1</text></g>
<g id="c-Swi5" class="n s c" transform="translate(140,1143)"><rect x="-10" y="-4.5" width="20" height="9" rx="4.5"/><text y="2">Swi5</text></g>
<g id="c-Fzf1" class="n s" transform="translate(196,1141)"><rect x="-10" y="-4.5" width="20" height="9" rx="4.5"/><text y="2">Fzf1</text></g>
<g id="c-Swi6" class="n s c" transform="translate(328,1119)"><rect x="-10" y="-4.5" width="20" height="9" rx="4.5"/><text y="2">Swi6</text></g>
<g id="c-Mbp1" class="n s c" transform="translate(377,1119)"><rect x="-10" y="-4.5" width="20" height="9" rx="4.5"/><text y="2">Mbp1</text></g>
<g id="c-Cin5" class="n s" transform="translate(298,1141)"><rect x="-10" y="-4.5" width="20" height="9" rx="4.5"/><text y="2">Cin5</text></g>
<g id="c-Pho4" class="n s" transform="translate(504,1147)"><rect x="-10" y="-4.5" width="20" height="9" rx="4.5"/><text y="2">Pho4</text></g>
<g id="c-Ndd1" class="n s" transform="translate(273,1148)"><rect x="-10" y="-4.5" width="20" height="9" rx="4.5"/><text y="2">Ndd1</text></g>
<g id="c-Sfp1" class="n s" transform="translate(69,1150)"><rect x="-10" y="-4.5" width="20" height="9" rx="4.5"/><text y="2">Sfp1</text></g>
<g id="c-Skn7" class="n s" transform="translate(215,1160)"><rect x="-10" y="-4.5" width="20" height="9" rx="4.5"/><text y="2">Skn7</text></g>
<g id="c-Swi4" class="n s c" transform="translate(328,1160)"><rect x="-10" y="-4.5" width="20" height="9" rx="4.5"/><text y="2">Swi4</text></g>
<g id="c-Abf1" class="n s c" transform="translate(377,1160)"><rect x="-10" y="-4.5" width="20" height="9" rx="4.5"/><text y="2">Abf1</text></g>
<g id="c-Ace2" class="n s" transform="translate(241,1165)"><rect x="-10" y="-4.5" width="20" height="9" rx="4.5"/><text y="2">Ace2</text></g>
<g id="c-Hms1" class="n s" transform="translate(43,1167)"><rect x="-10" y="-4.5" width="20" height="9" rx="4.5"/><text y="2">Hms1</text></g>
<g id="c-Rox1" class="n s" transform="translate(266,1177)"><rect x="-10" y="-4.5" width="20" height="9" rx="4.5"/><text y="2">Rox1</text></g>
<g id="c-Mot3" class="n s" transform="translate(316,1177)"><rect x="-10" y="-4.5" width="20" height="9" rx="4.5"/><text y="2">Mot3</text></g>
<g id="c-Msn1" class="n s" transform="translate(349,1177)"><rect x="-10" y="-4.5" width="20" height="9" rx="4.5"/><text y="2">Msn1</text></g>
<g id="c-Stp1" class="n s" transform="translate(375,1177)"><rect x="-10" y="-4.5" width="20" height="9" rx="4.5"/><text y="2">Stp1</text></g>
<g id="c-Rim101" class="n s" transform="translate(403,1177)"><rect x="-14" y="-4.5" width="28" height="9" rx="4.5"/><text y="2">Rim101</text></g>
<g id="c-Pho2" class="n s" transform="translate(460,1177)"><rect x="-10" y="-4.5" width="20" height="9" rx="4.5"/><text y="2">Pho2</text></g>
<g id="c-Ash1" class="n s c" transform="translate(100,1184)"><rect x="-10" y="-4.5" width="20" height="9" rx="4.5"/><text y="2">Ash1</text></g>
<g id="c-Sfl1" class="n s c" transform="translate(140,1184)"><rect x="-10" y="-4.5" width="20" height="9" rx="4.5"/><text y="2">Sfl1</text></g>
<g id="c-Nrg1" class="n s" transform="translate(179,1186)"><rect x="-10" y="-4.5" width="20" height="9" rx="4.5"/><text y="2">Nrg1</text></g>
<g id="c-Dal81" class="n s" transform="translate(433,1191)"><rect x="-12" y="-4.5" width="24" height="9" rx="4.5"/><text y="2">Dal81</text></g>
<g id="c-Crz1" class="n s" transform="translate(486,1195)"><rect x="-10" y="-4.5" width="20" height="9" rx="4.5"/><text y="2">Crz1</text></g>
<g id="c-Yap1" class="n s" transform="translate(221,1201)"><rect x="-10" y="-4.5" width="20" height="9" rx="4.5"/><text y="2">Yap1</text></g>
<g id="c-Phd1" class="n s" transform="translate(298,1201)"><rect x="-10" y="-4.5" width="20" height="9" rx="4.5"/><text y="2">Phd1</text></g>
<g id="c-Gat3" class="n s" transform="translate(126,1203)"><rect x="-10" y="-4.5" width="20" height="9" rx="4.5"/><text y="2">Gat3</text></g>
<g id="c-Ime4" class="n s" transform="translate(392,1205)"><rect x="-10" y="-4.5" width="20" height="9" rx="4.5"/><text y="2">Ime4</text></g>
<g id="c-Gln3" class="n s" transform="translate(533,1210)"><rect x="-10" y="-4.5" width="20" height="9" rx="4.5"/><text y="2">Gln3</text></g>
<g id="c-Rtg3" class="n s" transform="translate(23,1215)"><rect x="-10" y="-4.5" width="20" height="9" rx="4.5"/><text y="2">Rtg3</text></g>
<g id="c-Sok2" class="n s" transform="translate(269,1218)"><rect x="-10" y="-4.5" width="20" height="9" rx="4.5"/><text y="2">Sok2</text></g>
<g id="c-Zms1" class="n s" transform="translate(298,1226)"><rect x="-10" y="-4.5" width="20" height="9" rx="4.5"/><text y="2">Zms1</text></g>
<g id="c-Hap4" class="n s" transform="translate(356,1227)"><rect x="-10" y="-4.5" width="20" height="9" rx="4.5"/><text y="2">Hap4</text></g>
<g id="c-Gcn4" class="n s" transform="translate(480,1227)"><rect x="-10" y="-4.5" width="20" height="9" rx="4.5"/><text y="2">Gcn4</text></g>
<g id="c-Uga3" class="n s" transform="translate(575,1227)"><rect x="-10" y="-4.5" width="20" height="9" rx="4.5"/><text y="2">Uga3</text></g>
<g id="c-Mac1" class="n s" transform="translate(242,1231)"><rect x="-10" y="-4.5" width="20" height="9" rx="4.5"/><text y="2">Mac1</text></g>
<g id="c-a1" class="n s" transform="translate(68,1233)"><rect x="-5" y="-4.5" width="10" height="9" rx="4.5"/><text y="2">a1</text></g>
<g id="c-Put3" class="n s" transform="translate(411,1244)"><rect x="-10" y="-4.5" width="20" height="9" rx="4.5"/><text y="2">Put3</text></g>
<g id="c-Rap1" class="n s g" transform="translate(191,1248)"><rect x="-10" y="-4.5" width="20" height="9" rx="4.5"/><text y="2">Rap1</text></g>
<g id="c-Cup9" class="n s" transform="translate(265,1248)"><rect x="-10" y="-4.5" width="20" height="9" rx="4.5"/><text y="2">Cup9</text></g>
<g id="c-Hal9" class="n s" transform="translate(326,1248)"><rect x="-10" y="-4.5" width="20" height="9" rx="4.5"/><text y="2">Hal9</text></g>
<g id="c-Gat1" class="n s" transform="translate(148,1265)"><rect x="-10" y="-4.5" width="20" height="9" rx="4.5"/><text y="2">Gat1</text></g>
<g id="c-Yap6" class="n s" transform="translate(231,1265)"><rect x="-10" y="-4.5" width="20" height="9" rx="4.5"/><text y="2">Yap6</text></g>
<g id="c-Msn4" class="n s" transform="translate(287,1265)"><rect x="-10" y="-4.5" width="20" height="9" rx="4.5"/><text y="2">Msn4</text></g>
<g id="c-Met4" class="n s" transform="translate(502,1275)"><rect x="-10" y="-4.5" width="20" height="9" rx="4.5"/><text y="2">Met4</text></g>
<g id="c-Fhl1" class="n s" transform="translate(354,1282)"><rect x="-10" y="-4.5" width="20" height="9" rx="4.5"/><text y="2">Fhl1</text></g>
<g id="c-Leu3" class="n s" transform="translate(311,1291)"><rect x="-10" y="-4.5" width="20" height="9" rx="4.5"/><text y="2">Leu3</text></g>
<g id="c-Sip4" class="n s" transform="translate(146,1297)"><rect x="-10" y="-4.5" width="20" height="9" rx="4.5"/><text y="2">Sip4</text></g>
<g id="c-Rcs1" class="n s" transform="translate(173,1298)"><rect x="-10" y="-4.5" width="20" height="9" rx="4.5"/><text y="2">Rcs1</text></g>
<g id="c-Rph1" class="n s" transform="translate(203,1299)"><rect x="-10" y="-4.5" width="20" height="9" rx="4.5"/><text y="2">Rph1</text></g>
<g id="c-Yap5" class="n s" transform="translate(520,1313)"><rect x="-10" y="-4.5" width="20" height="9" rx="4.5"/><text y="2">Yap5</text></g>
<g id="c-Fkh2" class="n s" transform="translate(366,1318)"><rect x="-10" y="-4.5" width="20" height="9" rx="4.5"/><text y="2">Fkh2</text></g>
<g id="c-Hsf1" class="n s g" transform="translate(191,1336)"><rect x="-10" y="-4.5" width="20" height="9" rx="4.5"/><text y="2">Hsf1</text></g>
<g id="c-Cbf1" class="n s" transform="translate(153,1383)"><rect x="-10" y="-4.5" width="20" height="9" rx="4.5"/><text y="2">Cbf1</text></g>
<g id="c-Reb1" class="n s g" transform="translate(191,1401)"><rect x="-10" y="-4.5" width="20" height="9" rx="4.5"/><text y="2">Reb1</text></g>
<g id="c-Gts1" class="n s g" transform="translate(191,1438)"><rect x="-10" y="-4.5" width="20" height="9" rx="4.5"/><text y="2">Gts1</text></g>
</g>
<text class="lbl" x="33" y="1479">(c)</text>
</svg>
